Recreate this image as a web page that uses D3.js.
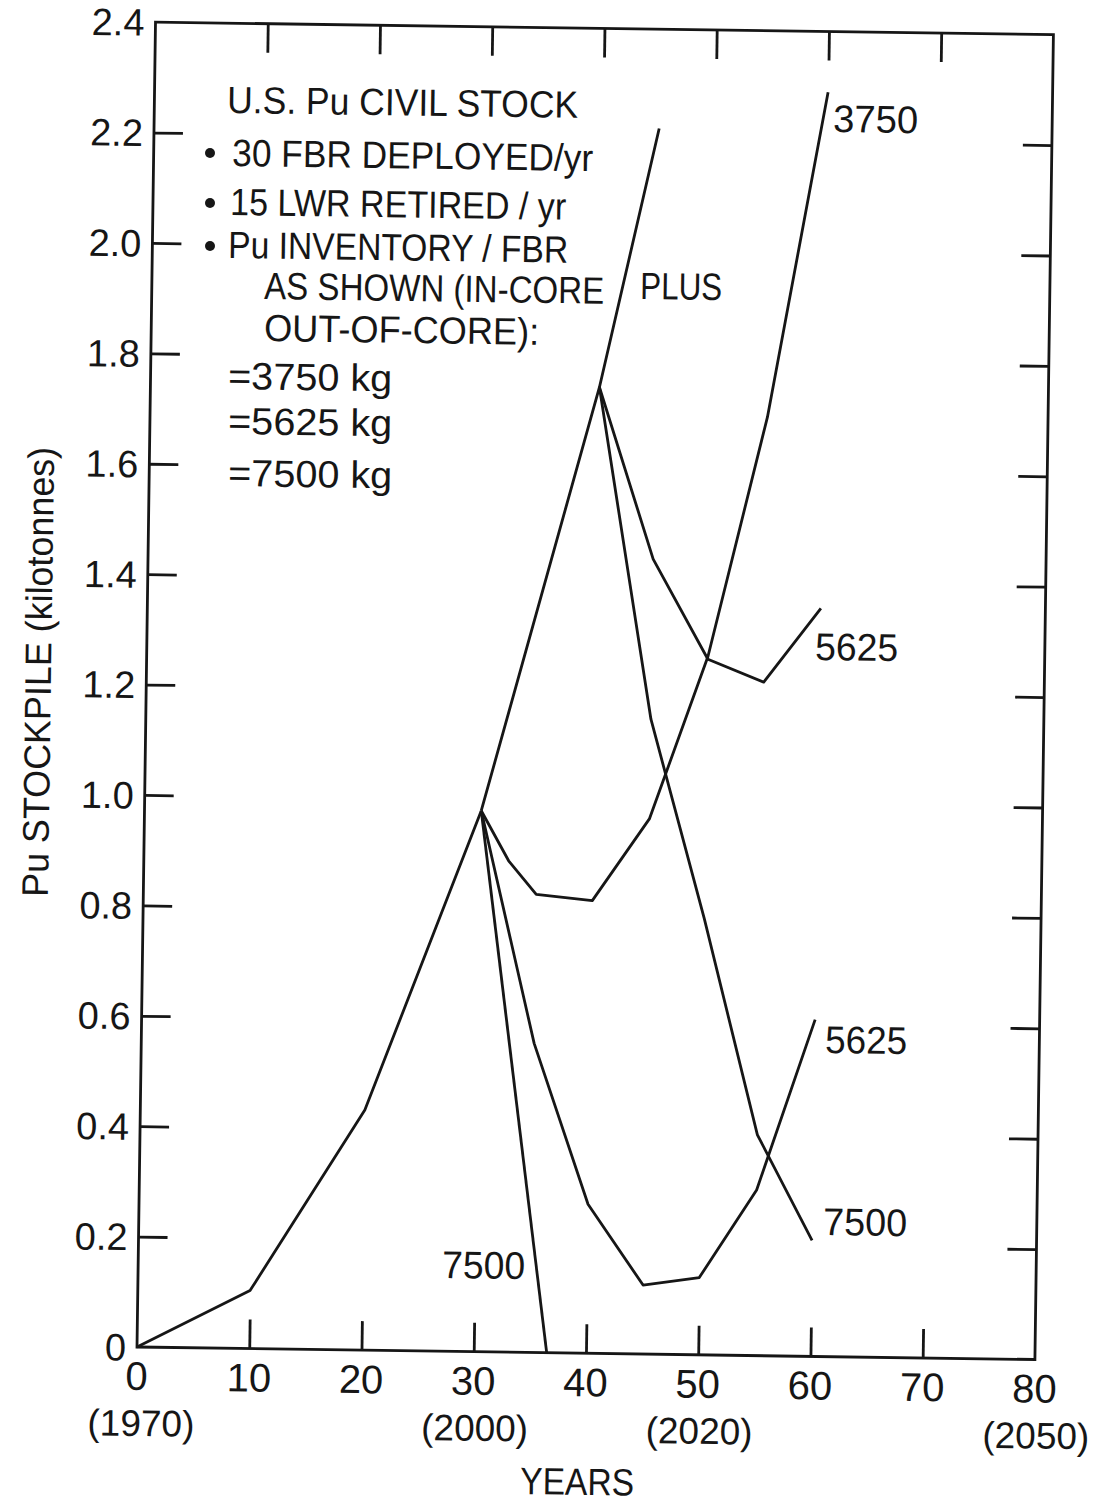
<!DOCTYPE html>
<html>
<head>
<meta charset="utf-8">
<script src="https://cdn.jsdelivr.net/npm/d3@7"></script>
<style>
  html, body { margin: 0; padding: 0; background: #ffffff; }
  svg { display: block; }
  text { font-family: "Liberation Sans", Arial, "DejaVu Sans", sans-serif; fill: #161616; }
</style>
</head>
<body>
<svg id="chart" width="1097" height="1505"></svg>
<script>
// ---------------- data ----------------
const xDomain = [0, 80];
const yDomain = [0, 2.4];
const xTickValues = [0, 10, 20, 30, 40, 50, 60, 70, 80];
const xTickLabels = ["0", "10", "20", "30", "40", "50", "60", "70", "80"];
const yearTickValues = [0, 30, 50, 80];
const yearTickLabels = ["(1970)", "(2000)", "(2020)", "(2050)"];
const yTickValues = [0, 0.2, 0.4, 0.6, 0.8, 1.0, 1.2, 1.4, 1.6, 1.8, 2.0, 2.2, 2.4];
const yTickLabels = ["0", "0.2", "0.4", "0.6", "0.8", "1.0", "1.2", "1.4", "1.6", "1.8", "2.0", "2.2", "2.4"];
const innerTickX = [10, 20, 30, 40, 50, 60, 70];
const innerTickY = [0.2, 0.4, 0.6, 0.8, 1.0, 1.2, 1.4, 1.6, 1.8, 2.0, 2.2];

// common history (1970-2000)
const baseYears = [0, 10, 20, 30];
const baseValues = [0, 0.105, 0.435, 0.98];
// continued growth without breeders
const growthYears = [30, 40, 45];
const growthValues = [0.98, 1.75, 2.22];
// FBR deployment from year 30
const fbr30_3750_years = [30, 32.5, 35, 40, 45, 50, 55, 60];
const fbr30_3750_values = [0.98, 0.89, 0.83, 0.82, 0.97, 1.265, 1.70, 2.29];
const fbr30_5625_years = [30, 35, 40, 45, 50, 55, 60];
const fbr30_5625_values = [0.98, 0.56, 0.27, 0.125, 0.14, 0.30, 0.61];
const fbr30_7500_years = [30, 36.5];
const fbr30_7500_values = [0.98, 0];
// FBR deployment from year 40
const fbr40_5625_years = [40, 45, 50, 55, 60];
const fbr40_5625_values = [1.75, 1.44, 1.26, 1.22, 1.355];
const fbr40_7500_years = [40, 45, 50, 55, 60];
const fbr40_7500_values = [1.75, 1.15, 0.79, 0.40, 0.21];

const seriesLabels = ["3750", "5625", "5625", "7500", "7500"];
const legendLines = [
  "U.S. Pu CIVIL STOCK",
  "30 FBR DEPLOYED/yr",
  "15 LWR RETIRED / yr",
  "Pu INVENTORY / FBR",
  "AS SHOWN (IN-CORE",
  "PLUS",
  "OUT-OF-CORE):",
  "=3750 kg",
  "=5625 kg",
  "=7500 kg"
];
const xAxisTitle = "YEARS";
const yAxisTitle = "Pu STOCKPILE (kilotonnes)";

// ---------------- layout ----------------
const origin = [137, 1347];
const tilt = 0.8;          // scanned page is slightly rotated
const W = 898, H = 1325;
const ink = "#161616";
const sw = 2.8;

const svg = d3.select("#chart");
svg.append("rect").attr("width", 1097).attr("height", 1505).attr("fill", "#ffffff");

const x = d3.scaleLinear().domain(xDomain).range([0, W]);
const y = d3.scaleLinear().domain(yDomain).range([0, -H]);

const g = svg.append("g")
  .attr("transform", `translate(${origin[0]},${origin[1]}) rotate(${tilt})`);

// frame
g.append("rect")
  .attr("x", x(xDomain[0])).attr("y", y(yDomain[1]))
  .attr("width", x(xDomain[1]) - x(xDomain[0]))
  .attr("height", y(yDomain[0]) - y(yDomain[1]))
  .attr("fill", "none").attr("stroke", ink).attr("stroke-width", sw);

// inward ticks on all four sides
const tickLen = 29;
function styleAxis(sel) {
  sel.select(".domain").remove();
  sel.selectAll(".tick line").attr("stroke", ink).attr("stroke-width", sw);
  sel.selectAll(".tick text").remove();
}
g.append("g").call(d3.axisBottom(x).tickValues(innerTickX).tickSize(-tickLen)).call(styleAxis);
g.append("g").attr("transform", `translate(0,${y(yDomain[1])})`)
  .call(d3.axisTop(x).tickValues(innerTickX).tickSize(-tickLen)).call(styleAxis);
g.append("g").call(d3.axisLeft(y).tickValues(innerTickY).tickSize(-tickLen)).call(styleAxis);
g.append("g").attr("transform", `translate(${x(xDomain[1])},0)`)
  .call(d3.axisRight(y).tickValues(innerTickY).tickSize(-tickLen)).call(styleAxis);

// tick labels
g.selectAll("text.xt").data(xTickValues).enter().append("text")
  .attr("class", "xt").attr("x", d => x(d)).attr("y", 43)
  .attr("text-anchor", "middle").attr("font-size", 40)
  .text((d, i) => xTickLabels[i]);
g.selectAll("text.yr").data(yearTickValues).enter().append("text")
  .attr("class", "yr").attr("x", d => x(d) + (d === 0 ? 5 : 2)).attr("y", 89)
  .attr("text-anchor", "middle").attr("font-size", 37)
  .text((d, i) => yearTickLabels[i]);
g.selectAll("text.ytl").data(yTickValues).enter().append("text")
  .attr("class", "ytl").attr("x", -11).attr("y", d => y(d)).attr("dy", "0.36em")
  .attr("text-anchor", "end").attr("font-size", 38)
  .text((d, i) => yTickLabels[i]);

// series lines
const line = d3.line().x(d => x(d[0])).y(d => y(d[1]));
const series = [
  [baseYears, baseValues],
  [growthYears, growthValues],
  [fbr30_3750_years, fbr30_3750_values],
  [fbr30_5625_years, fbr30_5625_values],
  [fbr30_7500_years, fbr30_7500_values],
  [fbr40_5625_years, fbr40_5625_values],
  [fbr40_7500_years, fbr40_7500_values]
];
series.forEach(([xs, vs]) => {
  g.append("path")
    .datum(xs.map((t, i) => [t, vs[i]]))
    .attr("d", line)
    .attr("fill", "none").attr("stroke", ink).attr("stroke-width", sw)
    .attr("stroke-linejoin", "round").attr("stroke-linecap", "butt");
});

// ---------------- annotations (page coordinates, tilted like the scan) ----------------
function note(txt, px, py, size, len, anchor) {
  const t = svg.append("text")
    .attr("transform", `translate(${px},${py}) rotate(${tilt})`)
    .attr("font-size", size)
    .attr("text-anchor", anchor || "start")
    .text(txt);
  if (len) t.attr("textLength", len).attr("lengthAdjust", "spacingAndGlyphs");
  return t;
}

// legend block
note(legendLines[0], 227, 113, 38, 351);
[[210, 153], [210, 203], [210, 246]].forEach(([cx, cy]) => {
  svg.append("circle").attr("cx", cx).attr("cy", cy).attr("r", 5).attr("fill", ink);
});
note(legendLines[1], 232, 166, 38, 361);
note(legendLines[2], 230, 215, 38, 336);
note(legendLines[3], 228, 258, 38, 340);
note(legendLines[4], 264, 299, 38, 340);
note(legendLines[5], 640, 299, 38, 82);
note(legendLines[6], 264, 341, 38, 275);
note(legendLines[7], 228, 389, 38, 164);
note(legendLines[8], 228, 434, 38, 164);
note(legendLines[9], 228, 486, 38, 164);

// curve labels
note(seriesLabels[0], 833, 132, 38.5, 85);
note(seriesLabels[1], 815, 660, 38.5, 83);
note(seriesLabels[2], 825, 1053, 38.5, 82);
note(seriesLabels[3], 823, 1235, 38.5, 84);
note(seriesLabels[4], 442, 1278, 38.5, 83);

// axis titles
note(xAxisTitle, 520, 1494, 38, 114);
svg.append("text")
  .attr("transform", `translate(51,672) rotate(${-90 + tilt})`)
  .attr("font-size", 37).attr("text-anchor", "middle")
  .attr("textLength", 450).attr("lengthAdjust", "spacingAndGlyphs")
  .text(yAxisTitle);
</script>
</body>
</html>
